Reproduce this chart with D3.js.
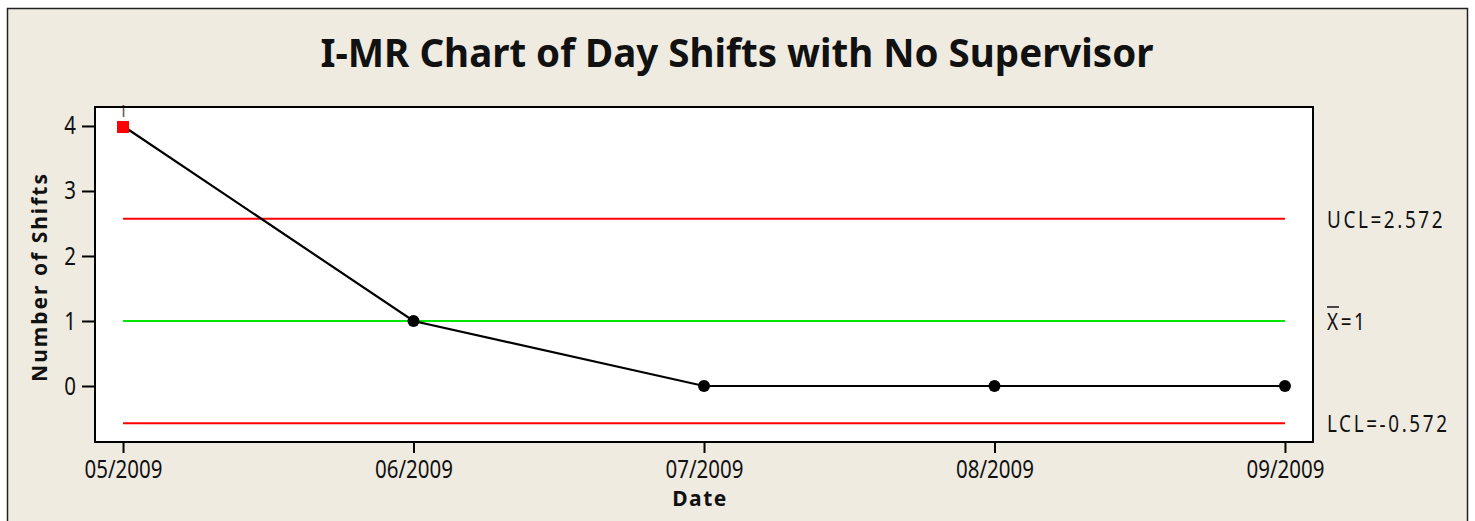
<!DOCTYPE html>
<html>
<head>
<meta charset="utf-8">
<script src="https://cdn.jsdelivr.net/npm/d3@7"></script>
<style>
  html, body { margin: 0; padding: 0; background: #fff; }
  svg { display: block; }
</style>
</head>
<body>
<div id="chart"></div>
<script>
// Data
const months = ['05/2009', '06/2009', '07/2009', '08/2009', '09/2009'];
const shifts = [4, 1, 0, 0, 0];
const outOfControl = [true, false, false, false, false];
const limitValues = [2.572, 1, -0.572];
const limitNames = ['UCL', 'mean', 'LCL'];
const limitLabels = ['UCL=2.572', 'X=1', 'LCL=-0.572'];
const yTicks = [0, 1, 2, 3, 4];

const width = 1475, height = 521;
const plot = { left: 95, top: 107, right: 1313, bottom: 442 };
const bg = '#efebe1';
const font = 'Noto Sans, sans-serif';
const squeeze = 0.82; // reference tick font is narrower

const svg = d3.select('#chart')
  .append('svg')
  .attr('width', width)
  .attr('height', height);

// beige frame
svg.append('rect')
  .attr('x', 7.5).attr('y', 8.5)
  .attr('width', 1460).attr('height', 530)
  .attr('fill', bg)
  .attr('stroke', '#222')
  .attr('stroke-width', 1.5);

// plot area
svg.append('rect')
  .attr('x', plot.left).attr('y', plot.top)
  .attr('width', plot.right - plot.left)
  .attr('height', plot.bottom - plot.top)
  .attr('fill', '#fff');

const x = d3.scaleLinear()
  .domain([-0.0965, 4.0965])
  .range([plot.left, plot.right]);

const y = d3.scaleLinear()
  .domain([-0.8615, 4.292])
  .range([plot.bottom, plot.top]);

// control limit lines
const limitColors = { UCL: '#ff0000', mean: '#00e600', LCL: '#ff0000' };
svg.append('g')
  .selectAll('line')
  .data(limitValues)
  .join('line')
  .attr('x1', x(0))
  .attr('x2', x(months.length - 1))
  .attr('y1', d => y(d))
  .attr('y2', d => y(d))
  .attr('stroke', (d, i) => limitColors[limitNames[i]])
  .attr('stroke-width', 2);

// series line
const line = d3.line()
  .x((d, i) => x(i))
  .y(d => y(d));

svg.append('path')
  .datum(shifts)
  .attr('d', line)
  .attr('fill', 'none')
  .attr('stroke', '#000')
  .attr('stroke-width', 2.2);

// points
const pts = svg.append('g');
shifts.forEach((v, i) => {
  if (outOfControl[i]) {
    pts.append('rect')
      .attr('x', x(i) - 6).attr('y', y(v) - 5)
      .attr('width', 12).attr('height', 12)
      .attr('fill', '#ff0000');
    // test number
    pts.append('text')
      .attr('x', x(i)).attr('y', y(v) - 9)
      .attr('text-anchor', 'middle')
      .attr('font-family', font)
      .attr('font-size', 16)
      .attr('fill', '#555')
      .text('1');
  } else {
    pts.append('circle')
      .attr('cx', x(i)).attr('cy', y(v))
      .attr('r', 6)
      .attr('fill', '#000');
  }
});

// plot border
svg.append('rect')
  .attr('x', plot.left).attr('y', plot.top)
  .attr('width', plot.right - plot.left)
  .attr('height', plot.bottom - plot.top)
  .attr('fill', 'none')
  .attr('stroke', '#000')
  .attr('stroke-width', 2);

// axes
const yAxis = svg.append('g')
  .attr('transform', `translate(${plot.left},0)`)
  .call(d3.axisLeft(y).tickValues(yTicks).tickFormat(d3.format('d'))
    .tickSize(13).tickPadding(6));

const xAxis = svg.append('g')
  .attr('transform', `translate(0,${plot.bottom})`)
  .call(d3.axisBottom(x).tickValues(d3.range(months.length))
    .tickFormat(i => months[i]).tickSize(11).tickPadding(7));

[yAxis, xAxis].forEach(g => {
  g.select('.domain').remove();
  g.selectAll('.tick line').attr('stroke', '#000').attr('stroke-width', 2);
  g.selectAll('.tick text')
    .attr('font-family', font)
    .attr('font-size', 25)
    .attr('fill', '#111')
    .attr('transform', `scale(${squeeze},1)`);
});
// undo the squeeze on the y labels' x offset
yAxis.selectAll('.tick text').attr('x', -19 / squeeze);

// title
svg.append('text')
  .attr('x', 737).attr('y', 67)
  .attr('text-anchor', 'middle')
  .attr('font-family', font)
  .attr('font-weight', 'bold')
  .attr('font-size', 38.5)
  .attr('fill', '#111')
  .text('I-MR Chart of Day Shifts with No Supervisor');

// axis titles
svg.append('text')
  .attr('x', 700).attr('y', 506)
  .attr('text-anchor', 'middle')
  .attr('font-family', font)
  .attr('font-weight', 'bold')
  .attr('font-size', 21)
  .attr('letter-spacing', 1.5)
  .attr('fill', '#111')
  .text('Date');

svg.append('text')
  .attr('transform', `translate(47,277) rotate(-90)`)
  .attr('text-anchor', 'middle')
  .attr('font-family', font)
  .attr('font-weight', 'bold')
  .attr('font-size', 21)
  .attr('letter-spacing', 2)
  .attr('fill', '#111')
  .text('Number of Shifts');

// limit labels
const labels = svg.append('g');
limitValues.forEach((v, i) => {
  labels.append('text')
    .attr('x', 1327)
    .attr('y', y(v) + 9)
    .attr('font-family', font)
    .attr('font-size', 23)
    .attr('letter-spacing', 3.2)
    .attr('fill', '#111')
    .attr('transform', `translate(${1327 * (1 - squeeze)},0) scale(${squeeze},1)`)
    .text(limitLabels[i]);
  if (limitNames[i] === 'mean') {
    labels.append('line')
      .attr('x1', 1327).attr('x2', 1339)
      .attr('y1', y(v) - 14).attr('y2', y(v) - 14)
      .attr('stroke', '#111')
      .attr('stroke-width', 1.5);
  }
});
</script>
</body>
</html>
